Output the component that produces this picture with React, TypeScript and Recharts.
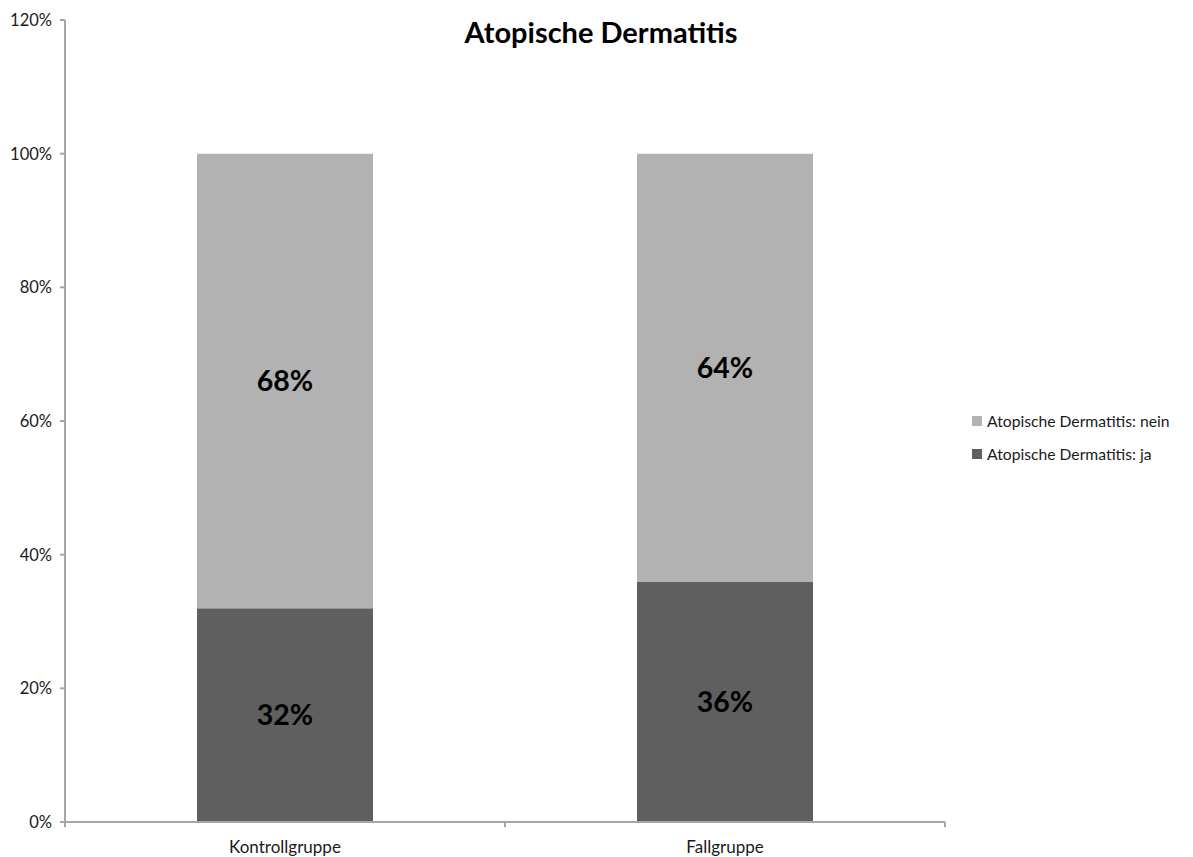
import React from "react";
import { BarChart, Bar, XAxis, YAxis, Legend, LabelList } from "recharts";

const categories = ["Kontrollgruppe", "Fallgruppe"];
const jaValues = [0.32, 0.36];
const neinValues = [0.68, 0.64];
const yTicks = [0, 0.2, 0.4, 0.6, 0.8, 1.0, 1.2];
const seriesNames = ["Atopische Dermatitis: ja", "Atopische Dermatitis: nein"];
const title = "Atopische Dermatitis";

const data = categories.map((c, i) => ({ name: c, ja: jaValues[i], nein: neinValues[i] }));

const FONT = "Lato, 'Open Sans', sans-serif";
const AXIS = "#a6a6a6";
const DARK = "#5f5f5f";
const LIGHT = "#b2b2b2";

const pct = (v: any) => `${Math.round(Number(v) * 100)}%`;

const XTick = (props: any) => {
  const { x, y, payload, index } = props;
  const off = payload.offset || 0;
  const last = index === categories.length - 1;
  return (
    <g>
      <line x1={x - off} x2={x - off} y1={y} y2={y + 5} stroke={AXIS} strokeWidth={2} />
      {last && <line x1={x + off} x2={x + off} y1={y} y2={y + 5} stroke={AXIS} strokeWidth={2} />}
      <text x={x} y={y + 31} textAnchor="middle" fontFamily={FONT} fontSize={17} fill="#1a1a1a">
        {payload.value}
      </text>
    </g>
  );
};

const LegendContent = () => {
  const items = [
    { name: seriesNames[1], color: LIGHT },
    { name: seriesNames[0], color: DARK },
  ];
  return (
    <div style={{ fontFamily: FONT, fontSize: 15.7, color: "#1a1a1a" }}>
      {items.map((it) => (
        <div key={it.name} style={{ display: "flex", alignItems: "center", height: 33 }}>
          <span style={{ width: 10, height: 10, background: it.color, display: "inline-block", marginRight: 5 }} />
          <span>{it.name}</span>
        </div>
      ))}
    </div>
  );
};

export default function App() {
  return (
    <div style={{ position: "absolute", left: 0, top: 0, width: 1193, height: 857, background: "#fff" }}>
      <div
        style={{
          position: "absolute",
          left: 0,
          top: 14,
          width: 1202,
          textAlign: "center",
          fontFamily: FONT,
          fontWeight: 700,
          fontSize: 29,
          color: "#000",
          zIndex: 2,
        }}
      >
        {title}
      </div>
      <BarChart
        width={1193}
        height={857}
        data={data}
        margin={{ top: 20, right: 248, bottom: 0, left: 8 }}
        barCategoryGap="30%"
      >
        <XAxis
          dataKey="name"
          axisLine={{ stroke: AXIS, strokeWidth: 2 }}
          tickLine={false}
          tickSize={0}
          tickMargin={0}
          tick={<XTick />}
          height={35}
          interval={0}
        />
        <YAxis
          width={57}
          domain={[0, 1.2]}
          ticks={yTicks}
          tickFormatter={pct}
          axisLine={{ stroke: AXIS, strokeWidth: 2 }}
          tickLine={{ stroke: AXIS, strokeWidth: 2 }}
          tickSize={5}
          tickMargin={8}
          tick={{ fontFamily: FONT, fontSize: 16.5, fill: "#1a1a1a" }}
          interval={0}
        />
        <Legend
          layout="vertical"
          align="center"
          verticalAlign="middle"
          content={<LegendContent />}
          wrapperStyle={{ position: "absolute", left: 972, top: 404, width: 220 }}
        />
        <Bar dataKey="ja" stackId="a" fill={DARK} isAnimationActive={false} name={seriesNames[0]}>
          <LabelList dataKey="ja" position="center" formatter={pct} fill="#000" fontFamily={FONT} fontWeight={700} fontSize={28.5} />
        </Bar>
        <Bar dataKey="nein" stackId="a" fill={LIGHT} isAnimationActive={false} name={seriesNames[1]}>
          <LabelList dataKey="nein" position="center" formatter={pct} fill="#000" fontFamily={FONT} fontWeight={700} fontSize={28.5} />
        </Bar>
      </BarChart>
    </div>
  );
}
